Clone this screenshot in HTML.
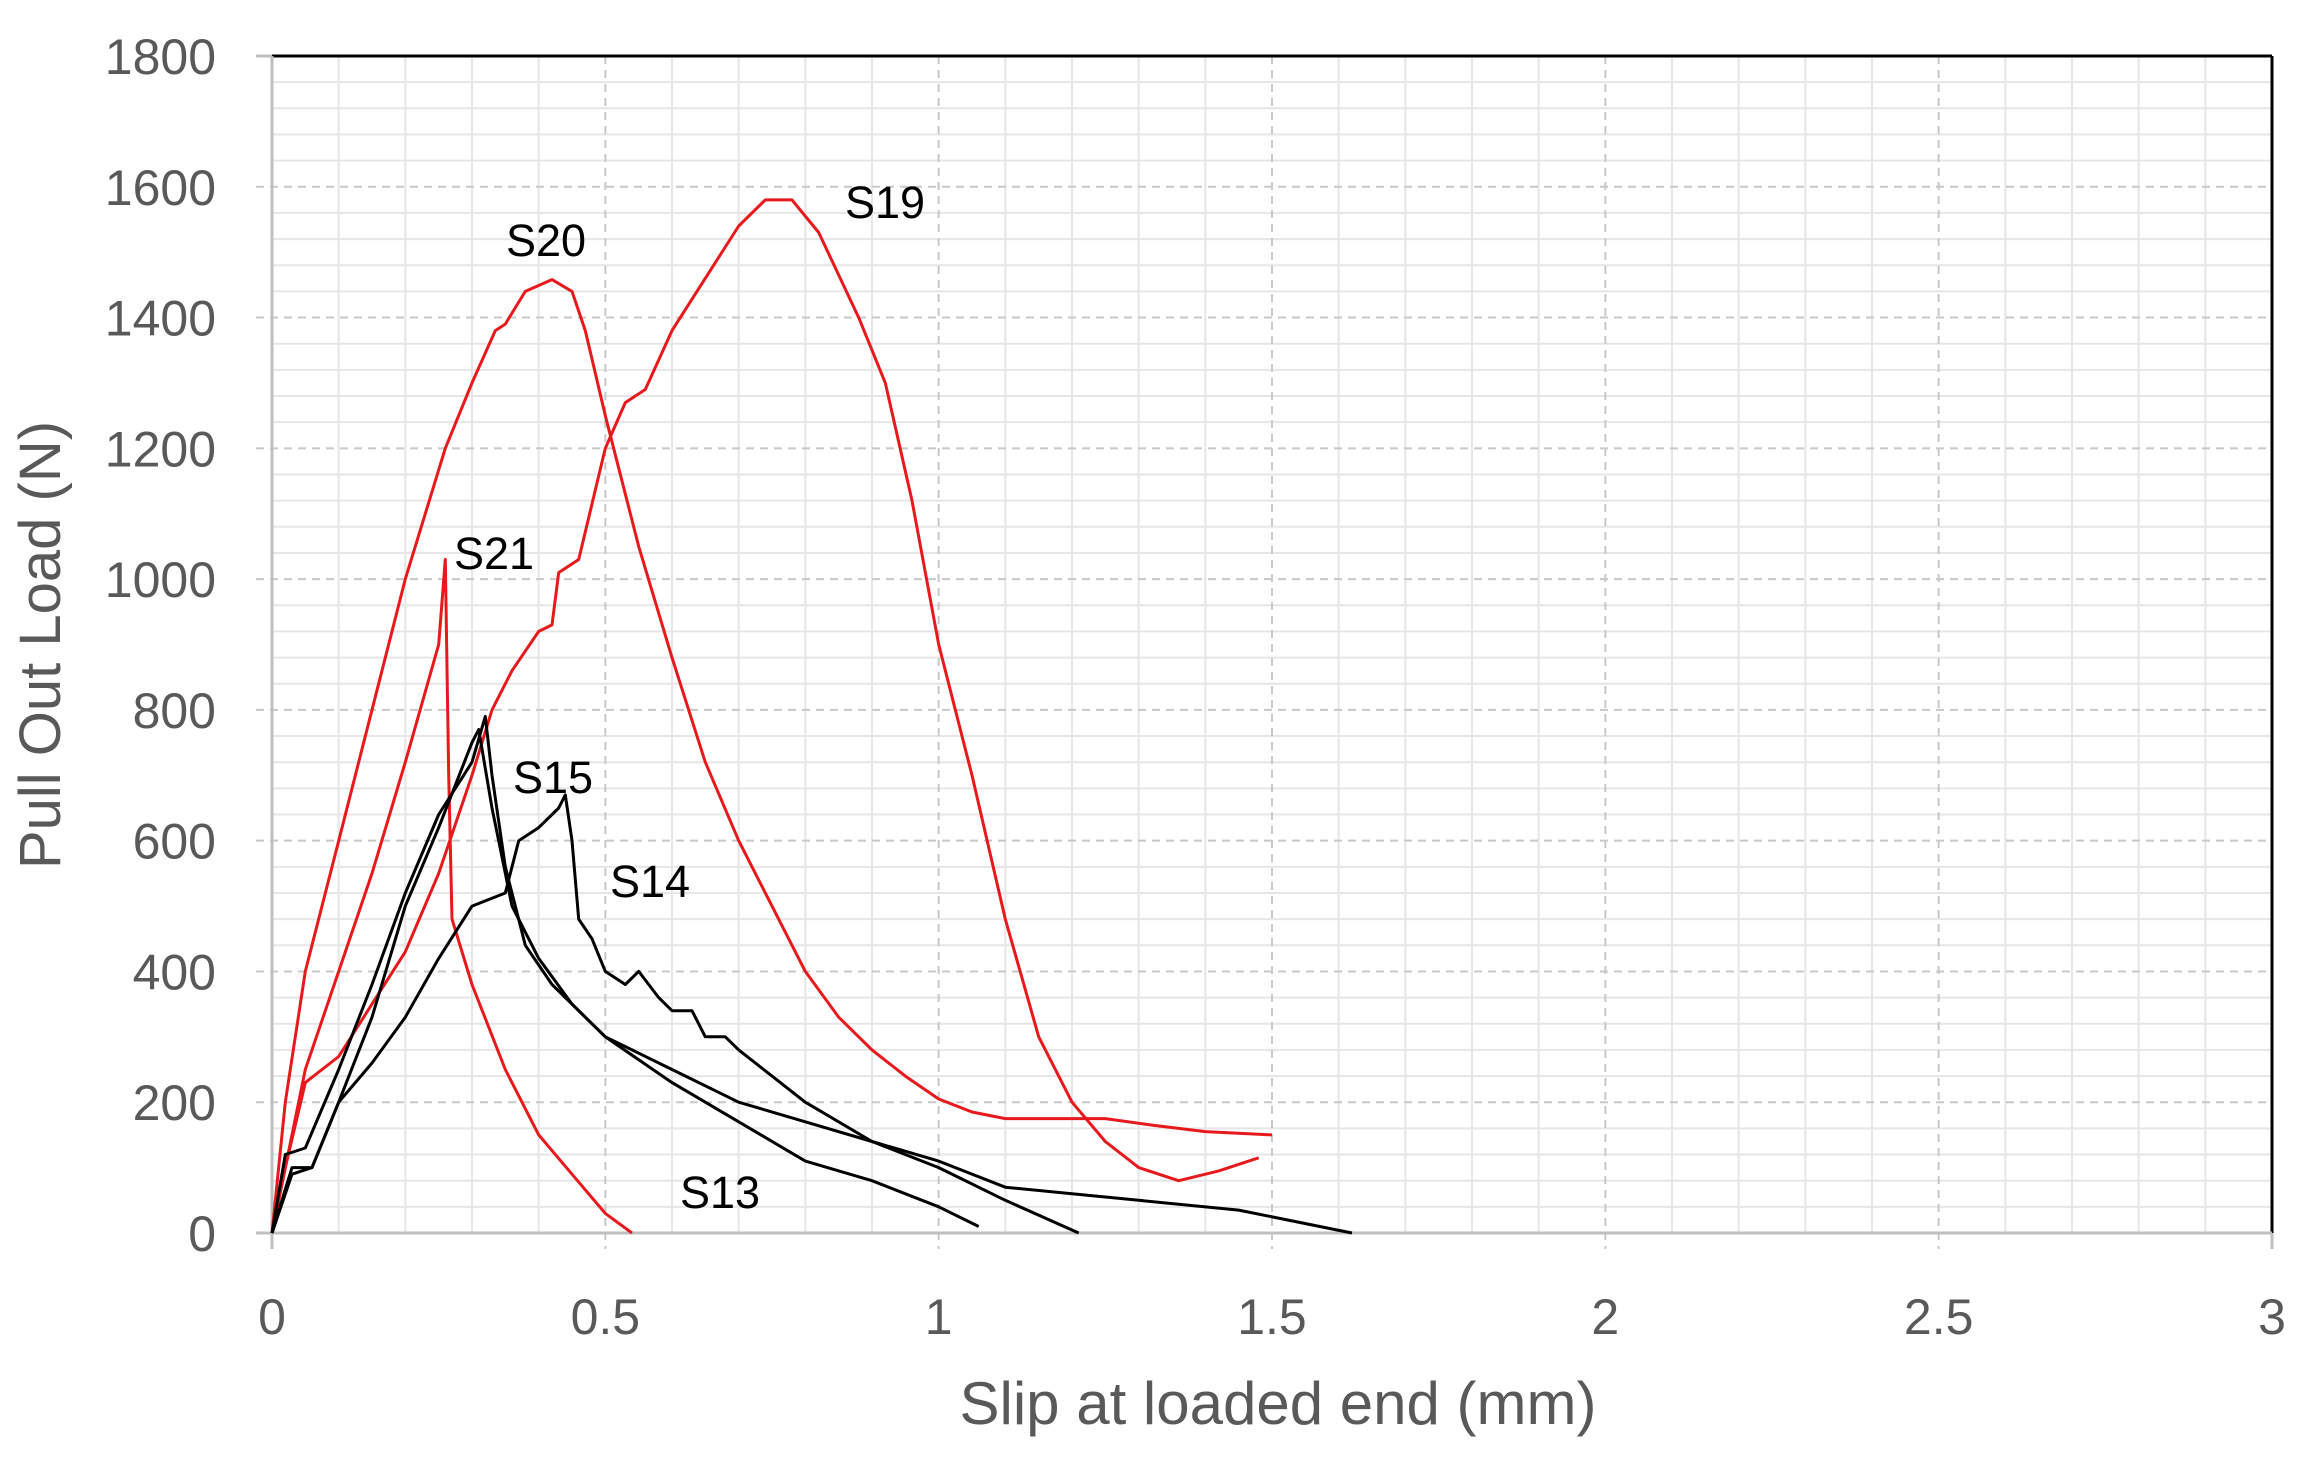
<!DOCTYPE html>
<html><head><meta charset="utf-8"><style>
html,body{margin:0;padding:0;background:#fff;}
svg{display:block;font-family:"Liberation Sans",sans-serif;}
</style></head><body>
<svg id="s" xmlns="http://www.w3.org/2000/svg" width="2320" height="1466" viewBox="0 0 2320 1466">
<rect width="2320" height="1466" fill="#fff"/>
<g id="grid"></g>
<g id="curves" fill="none" stroke-linejoin="round"></g>
<g font-size="45" fill="#000">
<text x="885" y="218" text-anchor="middle">S19</text>
<text x="546" y="256" text-anchor="middle">S20</text>
<text x="494" y="569" text-anchor="middle">S21</text>
<text x="553" y="793" text-anchor="middle">S15</text>
<text x="650" y="897" text-anchor="middle">S14</text>
<text x="720" y="1208" text-anchor="middle">S13</text>
</g>
<g id="labels" font-size="50" fill="#595959"></g>
<text x="1278" y="1424" text-anchor="middle" font-size="60" fill="#595959">Slip at loaded end (mm)</text>
<text transform="translate(60,645) rotate(-90)" text-anchor="middle" font-size="58" fill="#595959">Pull Out Load (N)</text>
</svg>
<script>
var L=272,R=2272,T=56,B=1233;
function X(x){return L+x*(R-L)/3;}
function Y(v){return B-v*(B-T)/1800;}
var ns="http://www.w3.org/2000/svg",g=document.getElementById('grid'),lb=document.getElementById('labels'),cv=document.getElementById('curves');
function el(p,tag,a,txt){var e=document.createElementNS(ns,tag);for(var k in a)e.setAttribute(k,a[k]);if(txt!==undefined)e.textContent=txt;p.appendChild(e);return e;}
for(var i=0;i<=45;i++){var v=i*40;if(i%5==0)continue;el(g,'line',{x1:L,x2:R,y1:Y(v),y2:Y(v),stroke:'#e6e6e6','stroke-width':2});}
for(var i=0;i<=30;i++){if(i%5==0)continue;var x=i*0.1;el(g,'line',{x1:X(x),x2:X(x),y1:T,y2:B,stroke:'#e6e6e6','stroke-width':2});}
for(var i=1;i<9;i++){var v=i*200;el(g,'line',{x1:L-16,x2:R,y1:Y(v),y2:Y(v),stroke:'#c8c8c8','stroke-width':2,'stroke-dasharray':'8,6'});}
for(var i=1;i<6;i++){var x=i*0.5;el(g,'line',{x1:X(x),x2:X(x),y1:T,y2:B+16,stroke:'#c8c8c8','stroke-width':2,'stroke-dasharray':'8,6'});}
el(g,'line',{x1:L,x2:R,y1:T,y2:T,stroke:'#000','stroke-width':3});
el(g,'line',{x1:R,x2:R,y1:T,y2:B,stroke:'#000','stroke-width':3});
el(g,'line',{x1:L,x2:L,y1:T,y2:B+16,stroke:'#bfbfbf','stroke-width':3});
el(g,'line',{x1:L-16,x2:R,y1:B,y2:B,stroke:'#bfbfbf','stroke-width':3});
el(g,'line',{x1:L-16,x2:L,y1:T,y2:T,stroke:'#bfbfbf','stroke-width':3});
el(g,'line',{x1:R,x2:R,y1:B,y2:B+16,stroke:'#bfbfbf','stroke-width':3});
for(var i=0;i<=9;i++){el(lb,'text',{x:216,y:Y(i*200)+18,'text-anchor':'end'},String(i*200));}
var xl=['0','0.5','1','1.5','2','2.5','3'];
for(var i=0;i<7;i++){el(lb,'text',{x:X(i*0.5),y:1334,'text-anchor':'middle'},xl[i]);}
var S19=[[0,0],[0.02,100],[0.05,230],[0.1,270],[0.15,350],[0.2,430],[0.25,550],[0.3,700],[0.33,800],[0.36,860],[0.4,920],[0.42,930],[0.43,1010],[0.46,1030],[0.5,1200],[0.53,1270],[0.56,1290],[0.6,1380],[0.65,1460],[0.7,1540],[0.74,1580],[0.78,1580],[0.82,1530],[0.88,1400],[0.92,1300],[0.96,1120],[1.0,900],[1.05,700],[1.1,480],[1.15,300],[1.2,200],[1.25,140],[1.3,100],[1.36,80],[1.42,95],[1.48,115]];
var S20=[[0,0],[0.02,200],[0.05,400],[0.1,600],[0.15,800],[0.2,1000],[0.26,1200],[0.3,1300],[0.335,1380],[0.35,1390],[0.38,1440],[0.42,1458],[0.45,1440],[0.47,1380],[0.5,1250],[0.55,1050],[0.6,880],[0.65,720],[0.7,600],[0.75,500],[0.8,400],[0.85,330],[0.9,280],[0.95,240],[1.0,205],[1.05,185],[1.1,175],[1.25,175],[1.32,165],[1.4,155],[1.5,150]];
var S21=[[0,0],[0.05,250],[0.1,400],[0.15,550],[0.2,720],[0.25,900],[0.26,1030],[0.265,700],[0.27,480],[0.3,380],[0.35,250],[0.4,150],[0.45,90],[0.5,30],[0.54,0]];
var S15=[[0,0],[0.02,120],[0.05,130],[0.1,250],[0.15,380],[0.2,520],[0.25,640],[0.3,720],[0.32,790],[0.33,700],[0.35,560],[0.38,440],[0.42,380],[0.5,300],[0.6,230],[0.7,170],[0.8,110],[0.9,80],[1.0,40],[1.06,10]];
var SB=[[0,0],[0.03,100],[0.06,100],[0.1,200],[0.15,330],[0.2,500],[0.25,620],[0.3,750],[0.31,770],[0.33,650],[0.36,500],[0.4,420],[0.45,350],[0.5,300],[0.6,250],[0.7,200],[0.8,170],[0.9,140],[1.0,110],[1.1,70],[1.2,60],[1.3,50],[1.45,35],[1.62,0]];
var S14=[[0,0],[0.03,90],[0.06,100],[0.1,200],[0.15,260],[0.2,330],[0.25,420],[0.3,500],[0.35,520],[0.37,600],[0.4,620],[0.43,650],[0.44,670],[0.45,600],[0.46,480],[0.48,450],[0.5,400],[0.53,380],[0.55,400],[0.58,360],[0.6,340],[0.63,340],[0.65,300],[0.68,300],[0.7,280],[0.75,240],[0.8,200],[0.9,140],[1.0,100],[1.1,50],[1.21,0]];
function P(d,c){el(cv,'polyline',{points:d.map(function(p){return X(p[0]).toFixed(1)+','+Y(p[1]).toFixed(1);}).join(' '),stroke:c,'stroke-width':3});}
P(S19,'#e8191c');P(S20,'#e8191c');P(S21,'#e8191c');P(S15,'#000');P(SB,'#000');P(S14,'#000');
</script>
</body></html>
